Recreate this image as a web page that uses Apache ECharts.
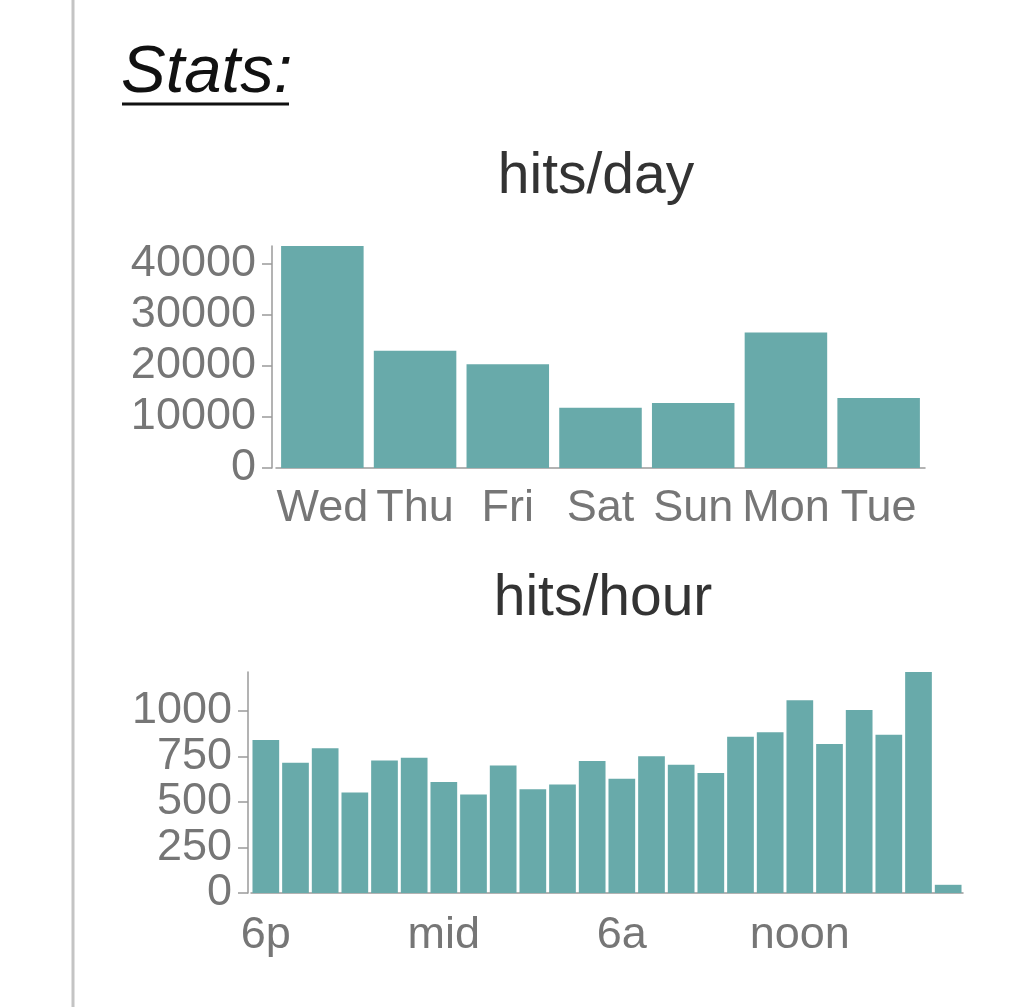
<!DOCTYPE html>
<html>
<head>
<meta charset="utf-8">
<script src="https://cdn.jsdelivr.net/npm/echarts@6/dist/echarts.min.js"></script>
<style>
html,body{margin:0;padding:0;background:#fff;}
#c{width:1024px;height:1007px;}
</style>
</head>
<body>
<div id="c"></div>
<script>
const days = ['Wed','Thu','Fri','Sat','Sun','Mon','Tue'];
const dayHits = [43400, 22900, 20300, 11800, 12700, 26500, 13700];
const dayTicks = [0, 10000, 20000, 30000, 40000];

const hours = ['6p','7p','8p','9p','10p','11p','mid','1a','2a','3a','4a','5a',
               '6a','7a','8a','9a','10a','11a','noon','1p','2p','3p','4p','5p'];
const hourHits = [840, 715, 795, 551, 727, 742, 609, 540, 700, 569, 595, 724,
                  627, 751, 704, 658, 858, 882, 1058, 818, 1005, 869, 1213, 45];
const hourTicks = [0, 250, 500, 750, 1000];
const hourLabelEvery = 6;

const FONT = '"Liberation Sans", Arial, Helvetica, sans-serif';
const BAR = '#68aaaa';
const LABEL = '#767676';
const AXIS = '#9a9a9a';

const chart = echarts.init(document.getElementById('c'), null, {renderer: 'canvas'});

function yAxisCfg(grid, ticks, offset) {
  return {
    type: 'value', gridIndex: grid, min: 0, max: 'dataMax', offset: offset,
    splitLine: {show: false},
    axisLine: {show: true, lineStyle: {color: AXIS, width: 1.5}},
    axisTick: {show: true, length: 10, customValues: ticks, lineStyle: {color: AXIS, width: 1.5}},
    axisLabel: {customValues: ticks, formatter: v => String(v), color: LABEL,
                fontSize: 45, fontFamily: FONT, margin: 16}
  };
}

chart.setOption({
  animation: false,
  title: [
    {text: 'hits/day', left: 591, top: 144, textAlign: 'center',
     textStyle: {fontSize: 57, fontWeight: 'normal', color: '#333', fontFamily: FONT}},
    {text: 'hits/hour', left: 598, top: 566, textAlign: 'center',
     textStyle: {fontSize: 57, fontWeight: 'normal', color: '#333', fontFamily: FONT}}
  ],
  graphic: [
    {type: 'line', shape: {x1: 73, y1: 0, x2: 73, y2: 1007}, style: {stroke: '#c4c4c4', lineWidth: 3}},
    {type: 'text', left: 121, top: 40,
     style: {text: 'Stats:', fontSize: 67, fontStyle: 'italic', fill: '#111', fontFamily: FONT}},
    {type: 'line', shape: {x1: 122, y1: 104, x2: 289, y2: 104}, style: {stroke: '#111', lineWidth: 3}}
  ],
  grid: [
    {left: 276, top: 246, width: 649, height: 222, containLabel: false, outerBoundsMode: 'none'},
    {left: 251, top: 672, width: 712, height: 221, containLabel: false, outerBoundsMode: 'none'}
  ],
  xAxis: [
    {type: 'category', gridIndex: 0, data: days,
     axisLine: {lineStyle: {color: AXIS, width: 1.5}},
     axisTick: {alignWithLabel: true, length: 11, lineStyle: {color: AXIS, width: 1.5}},
     axisLabel: {interval: 0, color: LABEL, fontSize: 45, fontFamily: FONT, margin: 18}},
    {type: 'category', gridIndex: 1, data: hours,
     axisLine: {lineStyle: {color: AXIS, width: 1.5}},
     axisTick: {alignWithLabel: true, length: 11, interval: i => i % hourLabelEvery === 0,
                lineStyle: {color: AXIS, width: 1.5}},
     axisLabel: {interval: i => i % hourLabelEvery === 0, color: LABEL, fontSize: 45,
                 fontFamily: FONT, margin: 20}}
  ],
  yAxis: [
    yAxisCfg(0, dayTicks, 4),
    yAxisCfg(1, hourTicks, 3)
  ],
  series: [
    {type: 'bar', xAxisIndex: 0, yAxisIndex: 0, data: dayHits, barCategoryGap: '11%',
     itemStyle: {color: BAR}},
    {type: 'bar', xAxisIndex: 1, yAxisIndex: 1, data: hourHits, barCategoryGap: '10%',
     itemStyle: {color: BAR}}
  ]
});
</script>
</body>
</html>
